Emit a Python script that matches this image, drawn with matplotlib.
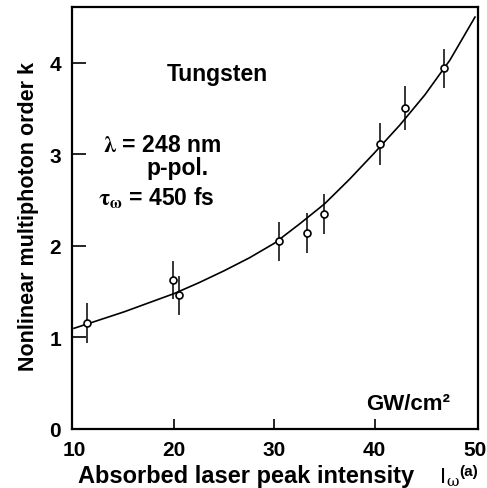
import matplotlib
matplotlib.use("Agg")
import matplotlib.pyplot as plt
import numpy as np

plt.rcParams["font.family"] = ["Liberation Sans", "DejaVu Sans"]
plt.rcParams["font.weight"] = "bold"
plt.rcParams["mathtext.fontset"] = "stix"

# measured points (intensity GW/cm^2, order k, error)
intensity = [11.3, 19.9, 20.5, 30.4, 33.2, 34.9, 40.5, 43.0, 46.9]
order_k = [1.16, 1.63, 1.46, 2.05, 2.14, 2.35, 3.11, 3.51, 3.94]
k_err = [0.22, 0.21, 0.21, 0.21, 0.22, 0.22, 0.23, 0.24, 0.21]

# fitted curve
fit_x = [10, 12.5, 15, 17.5, 20, 22.5, 25, 27.5, 30, 32.5, 35, 37.5, 40, 42.5, 45, 47.5, 50]
fit_k = [1.10, 1.19, 1.28, 1.38, 1.48, 1.60, 1.73, 1.87, 2.03, 2.24, 2.46, 2.73, 3.02, 3.32, 3.65, 4.03, 4.50]

xticks = [10, 20, 30, 40, 50]
yticks = [0, 1, 2, 3, 4]

W, H = 487, 489
fig = plt.figure(figsize=(4.87, 4.89), dpi=100)
ax = fig.add_axes([72 / W, 1 - 430 / H, 406 / W, 422 / H])

ax.plot(fit_x, fit_k, color="black", lw=1.2)
ax.errorbar(intensity, order_k, yerr=k_err, fmt="o", ms=5, mfc="white",
            mec="black", mew=1.2, ecolor="black", elinewidth=1.1, capsize=0)

ax.set_xlim(9.8, 50.3)
ax.set_ylim(0, 4.61)
ax.set_xticks(xticks)
ax.set_yticks(yticks)
ax.tick_params(axis="x", direction="in", length=7, width=1.2, labelsize=15, pad=8)
ax.tick_params(axis="y", direction="in", length=10, width=1.2, labelsize=15, pad=8)
# end ticks sit on the side spines in the original
xt = ax.xaxis.get_major_ticks()
xt[0].tick1line.set_visible(False)
xt[-1].tick1line.set_visible(False)
for s in ax.spines.values():
    s.set_linewidth(1.6)

ax.text(24.3, 3.81, "Tungsten", fontsize=16.5, ha="center", va="baseline")
ax.text(12.9, 3.04, r"$\mathrm{\lambda}$ = 248 nm", fontsize=16.5, ha="left", va="baseline")
ax.text(20.3, 2.79, "p-pol.", fontsize=16.5, ha="center", va="baseline")
ax.text(12.4, 2.45, r"$\mathrm{\tau}_{\mathrm{\omega}}$ = 450 fs", fontsize=16.5,
        ha="left", va="baseline")
ax.text(47.5, 0.22, "GW/cm²", fontsize=16, ha="right", va="baseline")

fig.text(78 / W, 1 - 483 / H, "Absorbed laser peak intensity", fontsize=17,
         ha="left", va="baseline")
# I_omega^(a) built from pieces
fig.text(440 / W, 1 - 483 / H, "I", fontsize=16, ha="left", va="baseline",
         fontweight="normal")
fig.text(446 / W, 1 - 486 / H, "ω", fontsize=11, ha="left", va="baseline",
         family="DejaVu Serif", fontweight="normal")
fig.text(459 / W, 1 - 476 / H, "(a)", fontsize=11, ha="left", va="baseline")
fig.text(29 / W, 1 - 217 / H, "Nonlinear multiphoton order k", fontsize=15.5,
         rotation=90, ha="center", va="center")

fig.savefig("out.png", dpi=100)
